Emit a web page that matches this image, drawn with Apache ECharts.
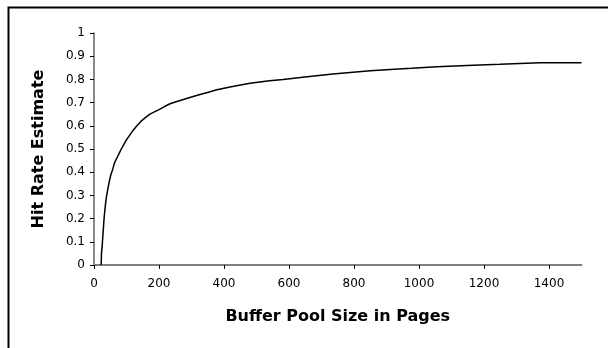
<!DOCTYPE html>
<html>
<head>
<meta charset="utf-8">
<script src="https://cdn.jsdelivr.net/npm/echarts/dist/echarts.min.js"></script>
<style>
  html, body { margin: 0; padding: 0; background: #fff; }
  #chart { width: 608px; height: 348px; }
</style>
</head>
<body>
<div id="chart"></div>
<script>
// buffer pool size (pages) where the estimate steps up
var pages = [22, 23, 25, 27, 29, 31, 33, 36, 39, 43, 47, 52, 57, 63, 70, 77, 84, 92, 100, 110,
  120, 132, 145, 158, 172, 186, 200, 217, 234, 255, 275, 300, 326, 352, 378, 404, 430, 455,
  480, 510, 540, 582, 635, 685, 735, 788, 850, 911, 977, 1055, 1147, 1249, 1372, 1500]
// hit rate estimate
var hitRate = [0, 0.05, 0.08, 0.12, 0.16, 0.2, 0.23, 0.27, 0.3, 0.33, 0.36, 0.39, 0.41, 0.44,
  0.46, 0.48, 0.5, 0.52, 0.54, 0.56, 0.58, 0.6, 0.62, 0.635, 0.65, 0.66, 0.67, 0.683, 0.695,
  0.705, 0.713, 0.724, 0.735, 0.745, 0.755, 0.763, 0.77, 0.777, 0.783, 0.789, 0.794, 0.8,
  0.808, 0.816, 0.823, 0.83, 0.837, 0.843, 0.848, 0.855, 0.86, 0.865, 0.872, 0.872]
var xTicks = [0, 200, 400, 600, 800, 1000, 1200, 1400]

var points = []
for (var i = 0; i < pages.length; i++) {
  points.push([pages[i], hitRate[i]])
}

var chart = echarts.init(document.getElementById('chart'), null, { renderer: 'canvas' })
var font = 'DejaVu Sans'
var option = {
  backgroundColor: '#fff',
  animation: false,
  graphic: [{
    // outer frame, only top and left edges are inside the picture
    type: 'rect',
    left: 6, top: 5,
    shape: { width: 700, height: 400 },
    style: { fill: 'none', stroke: '#000', lineWidth: 2 }
  }],
  grid: { left: 94, right: 26.5, top: 33, bottom: 83 },
  xAxis: {
    type: 'value',
    min: 0,
    max: 1500,
    name: 'Buffer Pool Size in Pages',
    nameLocation: 'middle',
    nameGap: 44,
    nameTextStyle: { fontFamily: font, fontWeight: 'bold', fontSize: 16, color: '#000' },
    axisLine: { lineStyle: { color: '#808080', width: 2 } },
    axisTick: { show: true, length: 4, customValues: xTicks, lineStyle: { color: '#000' } },
    axisLabel: {
      customValues: xTicks, margin: 13, fontFamily: font, fontSize: 12, color: '#000',
      formatter: function (v) { return String(v) } // no thousands separator
    },
    splitLine: { show: false }
  },
  yAxis: {
    type: 'value',
    min: 0,
    max: 1,
    interval: 0.1,
    name: 'Hit Rate Estimate',
    nameLocation: 'middle',
    nameGap: 47,
    nameTextStyle: { fontFamily: font, fontWeight: 'bold', fontSize: 16, color: '#000' },
    axisLine: { show: true, lineStyle: { color: '#606060', width: 1.5 } },
    axisTick: { show: true, length: 4, lineStyle: { color: '#000' } },
    axisLabel: { margin: 9, fontFamily: font, fontSize: 12, color: '#000' },
    splitLine: { show: false }
  },
  series: [{
    type: 'line',
    data: points,
    symbol: 'none',
    lineStyle: { color: '#000', width: 1.5 }
  }]
}
chart.setOption(option)
</script>
</body>
</html>
